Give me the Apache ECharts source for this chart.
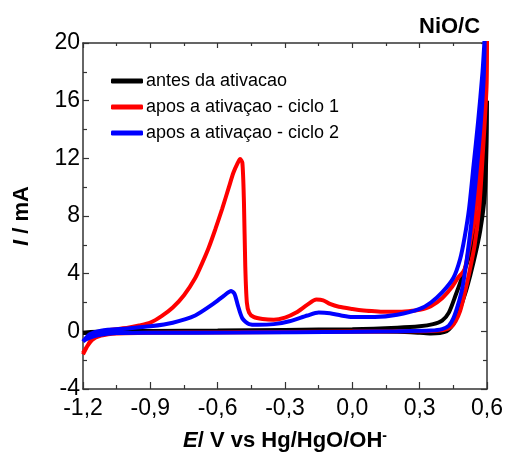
<!DOCTYPE html>
<html>
<head>
<meta charset="utf-8">
<script src="https://cdn.jsdelivr.net/npm/echarts@6/dist/echarts.min.js"></script>
<style>
html,body{margin:0;padding:0;background:#fff;}
#c{width:506px;height:457px;}
</style>
</head>
<body>
<div id="c"></div>
<script>
// ---- data (E in V vs Hg/HgO/OH-, I in mA), loops traced in scan order ----
const seriesNames = ['antes da ativacao', 'apos a ativaçao - ciclo 1', 'apos a ativaçao - ciclo 2'];
const xTicks = [-1.2, -0.9, -0.6, -0.3, 0.0, 0.3, 0.6];
const yTicks = [-4, 0, 4, 8, 12, 16, 20];

const antesE = [-1.2, -1.1, -0.9, -0.6, -0.3, 0.0, 0.2, 0.3, 0.36, 0.4, 0.43, 0.46, 0.49, 0.52, 0.55, 0.575, 0.59, 0.6,
  0.598, 0.59, 0.57, 0.54, 0.51, 0.48, 0.46, 0.44, 0.42, 0.39, 0.35, 0.3, 0.2, 0.0, -0.3, -0.6, -0.9, -1.1, -1.2];
const antesI = [-0.1, 0.0, 0.02, 0.05, 0.1, 0.15, 0.25, 0.35, 0.5, 0.75, 1.3, 2.5, 3.8, 5.2, 7.0, 9.0, 11, 16,
  13, 9.5, 7.0, 4.8, 3.0, 1.6, 0.8, 0.3, 0.0, -0.12, -0.15, -0.1, -0.03, 0.0, -0.02, -0.05, -0.06, -0.08, -0.12];

const ciclo1E = [-1.2, -1.18, -1.16, -1.13, -1.08, -1.0, -0.95, -0.9, -0.85, -0.8, -0.75, -0.7, -0.67, -0.64, -0.61, -0.58, -0.55, -0.53, -0.51, -0.5, -0.49, -0.483, -0.477, -0.47, -0.46, -0.44, -0.4, -0.35, -0.3, -0.25, -0.2, -0.16, -0.13, -0.1, -0.06, 0.0, 0.05, 0.1, 0.15, 0.2, 0.25, 0.3, 0.35, 0.4, 0.44, 0.47, 0.5, 0.52, 0.54, 0.556, 0.58, 0.6,
  0.598, 0.58, 0.565, 0.545, 0.52, 0.5, 0.48, 0.46, 0.44, 0.41, 0.35, 0.2, 0.0, -0.3, -0.6, -0.9, -1.05, -1.12, -1.16, -1.2];
const ciclo1I = [-1.6, -1.0, -0.5, -0.1, 0.1, 0.25, 0.4, 0.6, 1.05, 1.65, 2.5, 3.7, 4.7, 5.8, 7.1, 8.5, 10.0, 11.0, 11.7, 11.95, 11.7, 9.0, 4.5, 2.0, 1.3, 1.0, 0.85, 0.8, 0.95, 1.3, 1.85, 2.2, 2.15, 1.9, 1.7, 1.55, 1.45, 1.4, 1.35, 1.35, 1.4, 1.5, 1.75, 2.3, 3.0, 3.7, 4.3, 5.8, 7.5, 10, 14, 20.5,
  17, 12, 8.5, 6.0, 4.0, 2.6, 1.4, 0.7, 0.3, 0.1, 0.02, 0.0, -0.02, -0.05, -0.08, -0.1, -0.15, -0.3, -0.6, -1.5];

const ciclo2E = [-1.2, -1.17, -1.12, -1.0, -0.9, -0.8, -0.7, -0.62, -0.57, -0.54, -0.525, -0.51, -0.49, -0.46, -0.42, -0.35, -0.28, -0.2, -0.15, -0.1, -0.05, 0.0, 0.1, 0.2, 0.3, 0.35, 0.4, 0.45, 0.48, 0.5, 0.52, 0.54, 0.56, 0.58, 0.59,
  0.585, 0.57, 0.55, 0.53, 0.51, 0.49, 0.47, 0.45, 0.43, 0.4, 0.35, 0.2, 0.0, -0.5, -0.9, -1.05, -1.13, -1.18, -1.2];
const ciclo2I = [-0.7, -0.2, 0.05, 0.2, 0.35, 0.6, 1.1, 1.9, 2.5, 2.8, 2.6, 1.8, 0.9, 0.5, 0.45, 0.5, 0.7, 1.1, 1.3, 1.25, 1.1, 1.0, 1.0, 1.15, 1.55, 2.0, 2.7, 3.7, 5.0, 6.5, 8.5, 11.5, 14.5, 18, 20.5,
  17.5, 14, 10.5, 7.5, 5.0, 3.0, 1.8, 0.9, 0.4, 0.15, 0.05, 0.0, -0.03, -0.08, -0.1, -0.12, -0.25, -0.5, -0.7];

const colors = ['#000000', '#ff0000', '#0000ff'];

function zip(a, b) { return a.map((v, i) => [v, b[i]]); }
const dataSets = [zip(antesE, antesI), zip(ciclo1E, ciclo1I), zip(ciclo2E, ciclo2I)];

const FONT = '"Liberation Sans", Arial, sans-serif';
const fmtX = v => v.toFixed(1).replace('.', ',');

const chart = echarts.init(document.getElementById('c'), null, {renderer: 'canvas'});

const axisLine = {show: true, onZero: false, lineStyle: {color: '#333', width: 1.5}};
const tickStyle = {color: '#333', width: 1.2};
const option = {
  backgroundColor: '#fff',
  animation: false,
  title: {
    text: 'NiO/C', left: 414, top: 11,
    textStyle: {fontFamily: FONT, fontSize: 22, fontWeight: 'bold', color: '#000'}
  },
  legend: {
    orient: 'vertical', left: 106, top: 66,
    itemWidth: 32, itemHeight: 5, itemGap: 6, icon: 'roundRect',
    data: seriesNames,
    textStyle: {fontFamily: FONT, fontSize: 18, color: '#000', lineHeight: 20, padding: [0, 0, 0, -2]}
  },
  grid: {left: 83, right: 18, top: 43, bottom: 68, containLabel: false},
  xAxis: [{
    type: 'value', min: -1.2, max: 0.6, interval: 0.3,
    axisLine: axisLine,
    axisTick: {show: true, inside: true, length: 7, lineStyle: tickStyle},
    minorTick: {show: true, splitNumber: 2, length: 4, lineStyle: tickStyle},
    splitLine: {show: false},
    axisLabel: {fontFamily: FONT, fontSize: 23, color: '#000', margin: 8, formatter: fmtX},
    name: '{i|E}{b|/ V vs Hg/HgO/OH}{s|-}',
    nameLocation: 'middle', nameGap: 40,
    nameTextStyle: {
      rich: {
        i: {fontFamily: FONT, fontSize: 22, fontWeight: 'bold', fontStyle: 'italic', color: '#000'},
        b: {fontFamily: FONT, fontSize: 22, fontWeight: 'bold', color: '#000'},
        s: {fontFamily: FONT, fontSize: 14, fontWeight: 'bold', color: '#000', verticalAlign: 'top', padding: [0, 0, 10, 0]}
      }
    }
  }, {
    type: 'value', position: 'top', min: -1.2, max: 0.6, interval: 0.3,
    axisLine: axisLine,
    axisTick: {show: true, inside: true, length: 5, lineStyle: tickStyle},
    minorTick: {show: true, splitNumber: 2, length: 3, lineStyle: tickStyle},
    splitLine: {show: false},
    axisLabel: {show: false}
  }],
  yAxis: [{
    type: 'value', min: -4, max: 20, interval: 4,
    axisLine: axisLine,
    axisTick: {show: true, inside: true, length: 6, lineStyle: tickStyle},
    minorTick: {show: true, splitNumber: 2, length: 4, lineStyle: tickStyle},
    splitLine: {show: false},
    axisLabel: {fontFamily: FONT, fontSize: 23, color: '#000', margin: 3},
    name: '{i|I}{b| / mA}',
    nameLocation: 'middle', nameGap: 50, nameRotate: 90,
    nameTextStyle: {
      rich: {
        i: {fontFamily: FONT, fontSize: 22, fontWeight: 'bold', fontStyle: 'italic', color: '#000'},
        b: {fontFamily: FONT, fontSize: 22, fontWeight: 'bold', color: '#000'}
      }
    }
  }, {
    type: 'value', position: 'right', min: -4, max: 20, interval: 4,
    axisLine: axisLine,
    axisTick: {show: true, inside: true, length: 6, lineStyle: tickStyle},
    minorTick: {show: true, splitNumber: 2, length: 4, lineStyle: tickStyle},
    splitLine: {show: false},
    axisLabel: {show: false}
  }],
  series: seriesNames.map((name, k) => ({
    name: name,
    type: 'line',
    xAxisIndex: 0, yAxisIndex: 0,
    data: dataSets[k],
    smooth: 0.25,
    showSymbol: false,
    symbol: 'none',
    clip: true,
    color: colors[k],
    lineStyle: {color: colors[k], width: 4},
    z: 2 + k
  }))
};
chart.setOption(option);
</script>
</body>
</html>
